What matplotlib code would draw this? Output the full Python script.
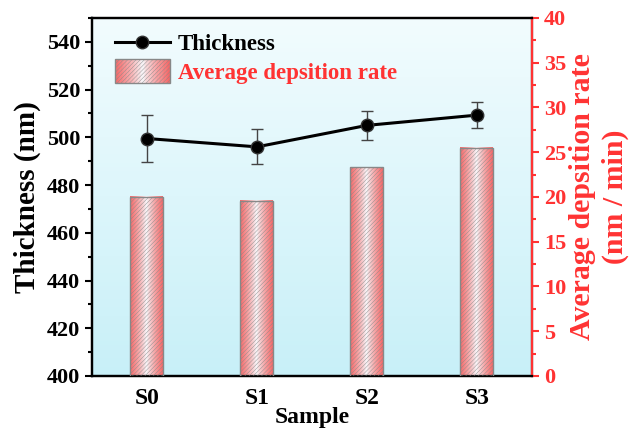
import numpy as np
import matplotlib
matplotlib.use("Agg")
import matplotlib.pyplot as plt
from matplotlib.legend_handler import HandlerBase
from matplotlib.patches import Rectangle
from matplotlib.lines import Line2D
from matplotlib.ticker import MultipleLocator

samples = ["S0", "S1", "S2", "S3"]
thickness = [499.5, 496.0, 505.0, 509.3]
thickness_err = [10.0, 7.3, 6.0, 5.4]
dep_rate = [20.0, 19.6, 23.3, 25.5]

plt.rcParams['font.family'] = ['Liberation Serif', 'DejaVu Serif']
plt.rcParams['font.weight'] = 'bold'
plt.rcParams['hatch.color'] = (0.9, 0.25, 0.25, 0.2)
plt.rcParams['hatch.linewidth'] = 0.3

RED = '#ff3333'
BAR_RED = np.array([246, 105, 105]) / 255.0

def grad_color(t):
    w = np.abs(2 * t - 1) ** 0.8
    return (1 - w)[..., None] * np.array([0.97, 0.98, 0.99]) + w[..., None] * BAR_RED

fig = plt.figure(figsize=(6.37, 4.3), dpi=100)
ax = fig.add_axes([0.1444, 0.1256, 0.6907, 0.8326])
ax2 = ax.twinx()

# background gradient
bg_top = np.array([242, 252, 254]) / 255.0
bg_bot = np.array([200, 240, 248]) / 255.0
tt = np.linspace(0, 1, 256)[:, None]
bg = (1 - tt)[..., None] * bg_top + tt[..., None] * bg_bot
bg = np.repeat(bg, 2, axis=1)
ax.imshow(bg, extent=[0, 1, 0, 1], transform=ax.transAxes, aspect='auto', zorder=0)

x = np.arange(len(samples))
ax.set_xlim(-0.5, 3.5)
ax.set_ylim(400, 550)
ax2.set_ylim(0, 40)

bars = ax2.bar(x, dep_rate, width=0.3, color='none', edgecolor='none', zorder=2)
row = grad_color(np.linspace(0, 1, 64))[None, :, :]
for b in bars:
    x0, w, h = b.get_x(), b.get_width(), b.get_height()
    ax2.imshow(row, extent=[x0, x0 + w, 0, h], aspect='auto', zorder=2)
    ax2.add_patch(Rectangle((x0, 0), w, h, facecolor='none', edgecolor='#888888',
                            hatch='////////', lw=1.0, zorder=3))
ax2.set_xlim(-0.5, 3.5)

ax.errorbar(x, thickness, yerr=thickness_err, fmt='none', ecolor='#444444',
            elinewidth=1.0, capsize=4, capthick=1.0, zorder=3)
ax.plot(x, thickness, '-', color='black', lw=2.2, marker='o', ms=9,
        mfc='black', mec='#333333', zorder=4)

ax.set_xticks(x)
ax.set_xticklabels(samples, fontsize=17, fontweight='bold')
ax.tick_params(axis='x', length=0, pad=9)
ax.set_xlabel("Sample", fontsize=17, fontweight='bold', labelpad=-2)

ax.yaxis.set_major_locator(MultipleLocator(20))
ax.yaxis.set_minor_locator(MultipleLocator(10))
ax.set_yticks([400, 420, 440, 460, 480, 500, 520, 540])
ax.tick_params(axis='y', which='major', direction='out', length=5, width=1.5, labelsize=16)
ax.tick_params(axis='y', which='minor', direction='out', length=3, width=1.5)
ax.set_ylabel("Thickness (nm)", fontsize=21, fontweight='bold', labelpad=4)

ax2.yaxis.set_major_locator(MultipleLocator(5))
ax2.yaxis.set_minor_locator(MultipleLocator(2.5))
ax2.tick_params(axis='y', which='major', direction='out', length=5, width=1.5,
                labelsize=16, colors=RED)
ax2.tick_params(axis='y', which='minor', direction='out', length=3, width=1.5, colors=RED)
ax2.set_ylabel("Average depsition rate\n(nm / min)", fontsize=21.5, fontweight='bold',
               color=RED, linespacing=1.3, labelpad=2)

for a in (ax, ax2):
    for s in a.spines.values():
        s.set_linewidth(1.6)
ax2.spines['right'].set_color(RED)
for lab in ax.get_yticklabels() + ax2.get_yticklabels():
    lab.set_fontweight('bold')


class GradHandler(HandlerBase):
    def create_artists(self, legend, orig_handle, xdescent, ydescent, width, height,
                       fontsize, trans):
        arts = []
        n = 40
        cols = grad_color(np.linspace(0, 1, n))
        h = height * 1.5
        y0 = -ydescent - (h - height) / 2
        for i in range(n):
            arts.append(Rectangle((-xdescent + width * i / n, y0), width / n + 0.3, h,
                                  facecolor=cols[i], edgecolor='none', transform=trans))
        arts.append(Rectangle((-xdescent, y0), width, h, facecolor='none',
                              edgecolor='#888888', hatch='////////', lw=1.0, transform=trans))
        return arts


line_handle = Line2D([], [], color='black', lw=2.2, marker='o', ms=9, mfc='black', mec='#333333')
bar_handle = Rectangle((0, 0), 1, 1)
leg = ax2.legend([line_handle, bar_handle], ["Thickness", "Average depsition rate"],
                 handler_map={Rectangle: GradHandler()}, loc='upper left',
                 bbox_to_anchor=(0.005, 1.012), frameon=False,
                 handlelength=2.4, handletextpad=0.35, labelspacing=0.35,
                 prop={'weight': 'bold', 'size': 16.5})
leg.get_texts()[1].set_color(RED)

fig.savefig("out.png", dpi=100)
